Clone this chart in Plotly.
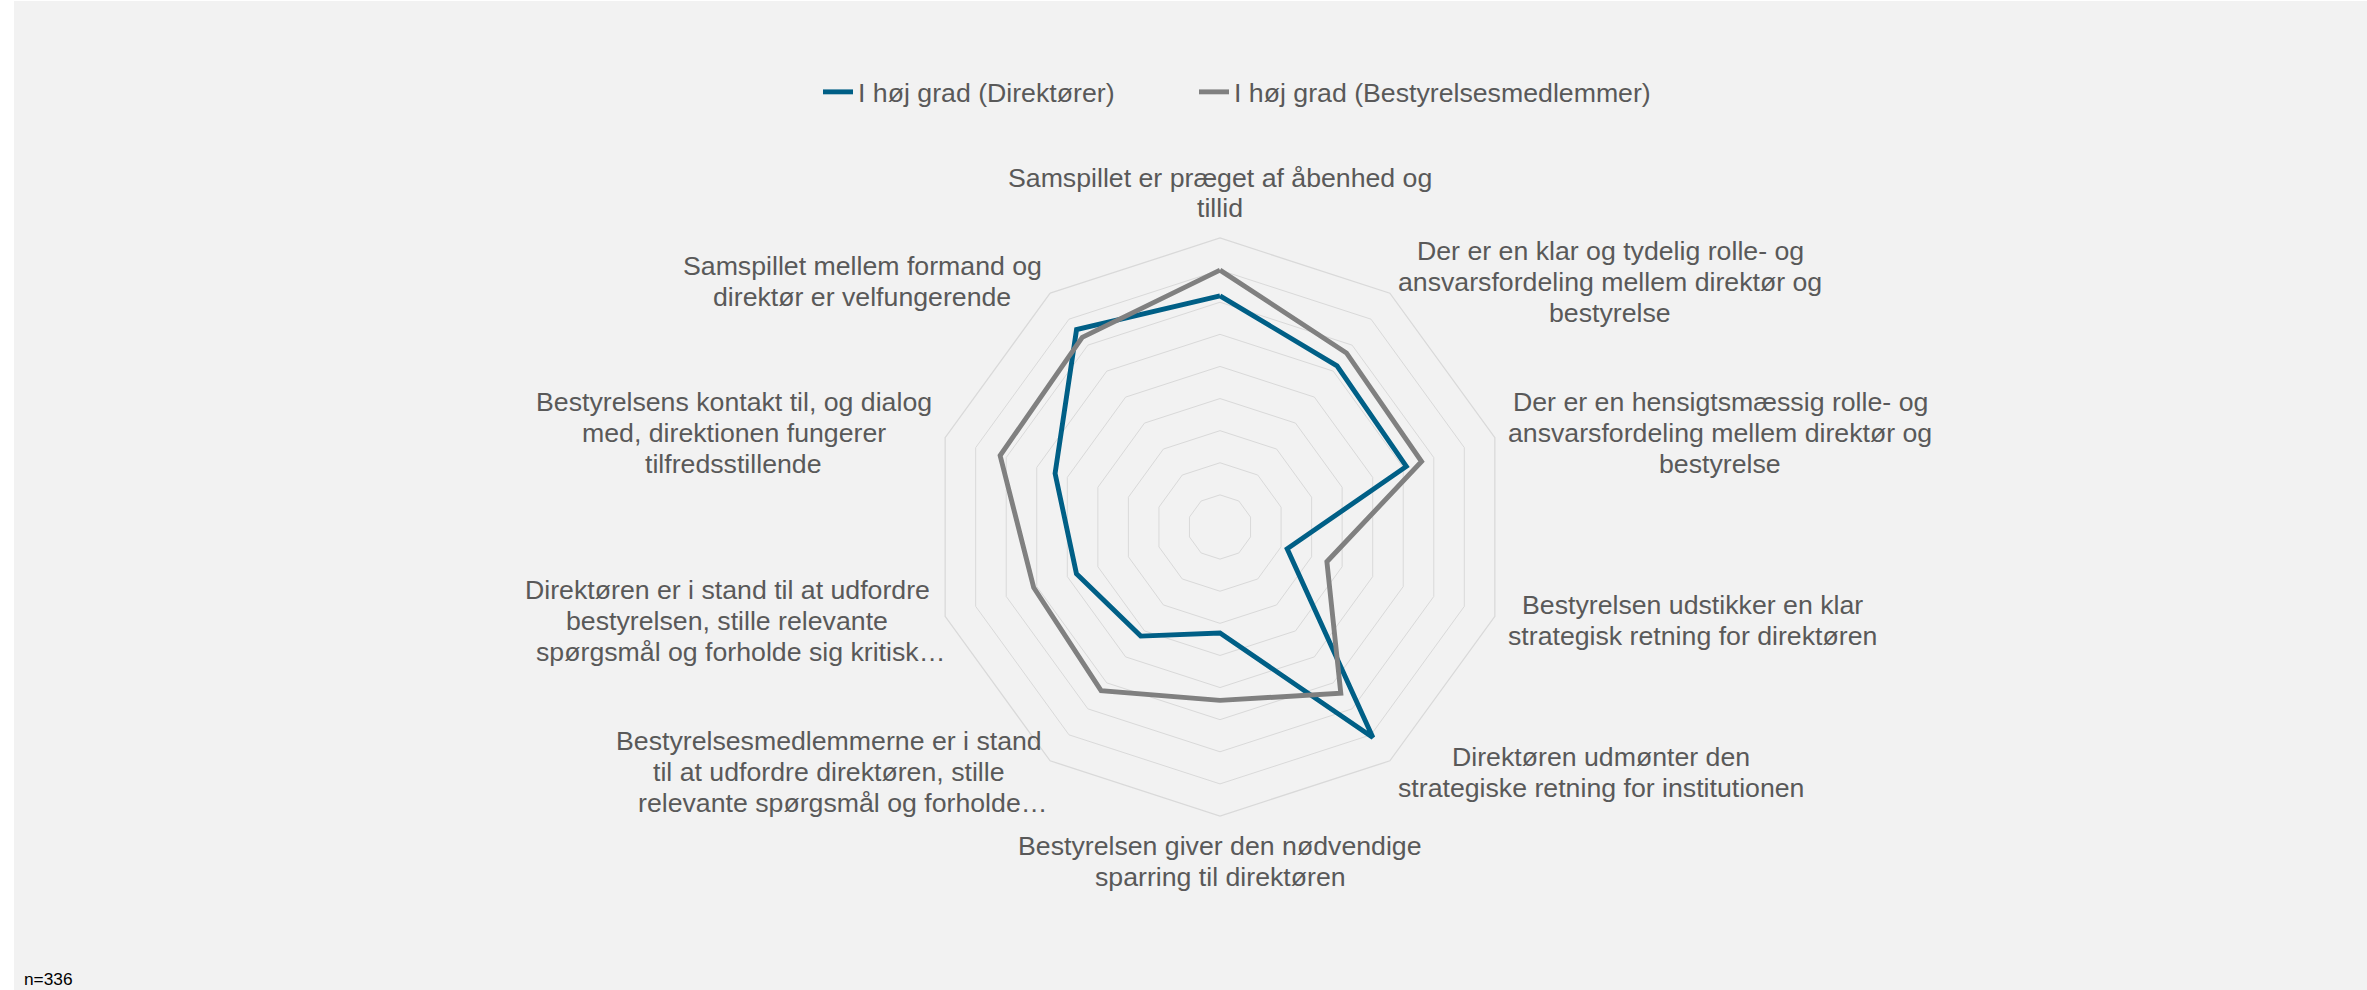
import math
import plotly.graph_objects as go

# Canvas size in pixels
W_PX, H_PX = 2367, 990

# Category labels, one list of text lines per spoke (clockwise from the top)
label_lines = [
    ["Samspillet er præget af åbenhed og", "tillid"],
    ["Der er en klar og tydelig rolle- og", "ansvarsfordeling mellem direktør og", "bestyrelse"],
    ["Der er en hensigtsmæssig rolle- og", "ansvarsfordeling mellem direktør og", "bestyrelse"],
    ["Bestyrelsen udstikker en klar", "strategisk retning for direktøren"],
    ["Direktøren udmønter den", "strategiske retning for institutionen"],
    ["Bestyrelsen giver den nødvendige", "sparring til direktøren"],
    ["Bestyrelsesmedlemmerne er i stand", "til at udfordre direktøren, stille", "relevante spørgsmål og forholde…"],
    ["Direktøren er i stand til at udfordre", "bestyrelsen, stille relevante", "spørgsmål og forholde sig kritisk…"],
    ["Bestyrelsens kontakt til, og dialog", "med, direktionen fungerer", "tilfredsstillende"],
    ["Samspillet mellem formand og", "direktør er velfungerende"],
]
categories = [" ".join(lines) for lines in label_lines]

# Share answering "I høj grad" (percent)
direktoerer = [72, 62, 61, 22, 81, 33, 42, 47, 54, 76]
bestyrelsesmedlemmer = [80, 67, 66, 35, 64, 54, 63, 61, 72, 73]
series_names = ["I høj grad (Direktører)", "I høj grad (Bestyrelsesmedlemmer)"]

radial_max = 90
radial_step = 10
note_text = "n=336"

# Styling
FONT = "Liberation Sans, Arial, sans-serif"
TEXT_COLOR = "#595959"
GRID_COLOR = "#d9d9d9"
BLUE = "#005f86"
GREY = "#808080"
LABEL_FS = 26.7
LEGEND_FS = 26.7
LINE_W = 4.9

# Plot geometry (pixels)
cx, cy, R = 1220, 527, 289
label_gap = 14
line_pitch = 31
legend_text_x = [858, 1234]   # left edge of each legend entry's text
legend_y = 92

# Arial / Liberation Sans advance widths (1/1000 em) for text measuring
ADV = {' ': 278, ',': 278, '-': 333, '…': 1000, '(': 333, ')': 333, '=': 584,
       'a': 556, 'b': 556, 'c': 500, 'd': 556, 'e': 556, 'f': 278, 'g': 556,
       'h': 556, 'i': 222, 'j': 222, 'k': 500, 'l': 222, 'm': 833, 'n': 556,
       'o': 556, 'p': 556, 'q': 556, 'r': 333, 's': 500, 't': 278, 'u': 556,
       'v': 500, 'w': 722, 'x': 500, 'y': 500, 'z': 500, 'æ': 889, 'ø': 611,
       'å': 556, 'B': 667, 'D': 722, 'S': 667, 'I': 278}


def text_width(s, size):
    return sum(ADV.get(ch, 556) for ch in s) / 1000.0 * size


def px_x(x):
    return x / W_PX


def px_y(y):
    return 1 - y / H_PX


fig = go.Figure()

legend_ids = ["legend", "legend2"]
for name, vals, color, lg in [(series_names[0], direktoerer, BLUE, legend_ids[0]),
                              (series_names[1], bestyrelsesmedlemmer, GREY, legend_ids[1])]:
    fig.add_trace(go.Scatterpolar(
        r=vals + vals[:1],
        theta=categories + categories[:1],
        mode="lines",
        name=name,
        legend=lg,
        line=dict(color=color, width=LINE_W),
        hoverinfo="skip",
    ))

# Category labels placed just outside the outer ring
n_cat = len(label_lines)
for k, lines in enumerate(label_lines):
    ang = math.radians(360.0 * k / n_cat)
    s, c = math.sin(ang), math.cos(ang)
    ax = cx + (R + label_gap) * s
    ay = cy - (R + label_gap) * c
    side = 0 if abs(s) < 1e-6 else (1 if s > 0 else -1)
    wmax = max(text_width(t, LABEL_FS) for t in lines)
    bx = ax + side * wmax / 2
    n = len(lines)
    if side == 0:
        y0 = ay - line_pitch * n + line_pitch / 2 if c > 0 else ay + line_pitch / 2
    else:
        y0 = ay - line_pitch * (n - 1) / 2
    for i, t in enumerate(lines):
        # truncated lines are centred without their trailing ellipsis
        shift = text_width("…", LABEL_FS) / 2 if t.endswith("…") else 0
        fig.add_annotation(
            x=px_x(bx + shift), y=px_y(y0 + i * line_pitch), xref="paper", yref="paper",
            text=t, showarrow=False, xanchor="center", yanchor="middle",
            font=dict(family=FONT, size=LABEL_FS, color=TEXT_COLOR),
        )

fig.add_annotation(
    x=px_x(22), y=px_y(979), xref="paper", yref="paper", text=note_text,
    showarrow=False, xanchor="left", yanchor="middle",
    font=dict(family=FONT, size=17.3, color="#000000"),
)

# Chart area background (white strip on the far left)
fig.add_shape(type="rect", xref="paper", yref="paper",
              x0=px_x(14), x1=1, y0=0, y1=px_y(1),
              fillcolor="#f2f2f2", line=dict(width=0), layer="below")

legend_common = dict(
    orientation="h", xanchor="left", yanchor="middle", y=px_y(legend_y),
    font=dict(family=FONT, size=LEGEND_FS, color=TEXT_COLOR),
    bgcolor="rgba(0,0,0,0)",
)

fig.update_layout(
    width=W_PX, height=H_PX,
    margin=dict(l=0, r=0, t=0, b=0),
    paper_bgcolor="#ffffff",
    font=dict(family=FONT, color=TEXT_COLOR),
    showlegend=True,
    legend=dict(x=px_x(legend_text_x[0] - 40), **legend_common),
    legend2=dict(x=px_x(legend_text_x[1] - 40), **legend_common),
    polar=dict(
        domain=dict(x=[px_x(cx - R), px_x(cx + R)], y=[px_y(cy + R), px_y(cy - R)]),
        bgcolor="rgba(0,0,0,0)",
        gridshape="linear",
        radialaxis=dict(range=[0, radial_max], dtick=radial_step, showticklabels=False,
                        ticks="", showline=False, gridcolor=GRID_COLOR, gridwidth=1.3),
        angularaxis=dict(rotation=90, direction="clockwise", showticklabels=False,
                         ticks="", showgrid=False, showline=True,
                         linecolor=GRID_COLOR, linewidth=1.3,
                         categoryorder="array", categoryarray=categories),
    ),
)

fig.write_html("out.html")
